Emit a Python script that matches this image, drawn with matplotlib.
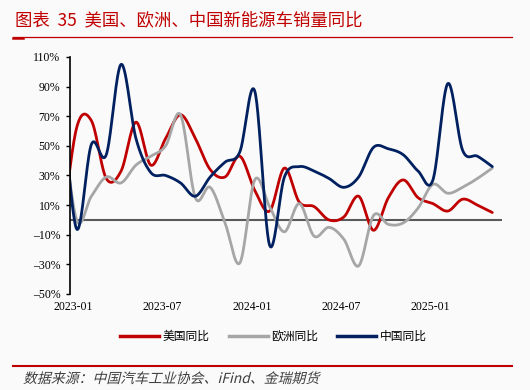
import numpy as np
import matplotlib.pyplot as plt
from matplotlib.lines import Line2D
from matplotlib.textpath import TextPath
from matplotlib.patches import PathPatch
from matplotlib.font_manager import FontProperties
from matplotlib.transforms import Affine2D

plt.rcParams['font.family'] = ['Noto Sans CJK SC', 'DejaVu Sans']

# ------------------------------------------------------------
# data: monthly YoY (%), 2022-12 .. 2025-05 (first point sits left of the axis)
# ------------------------------------------------------------
months = ['2022-12'] + [f'{y}-{m:02d}' for y in (2023, 2024) for m in range(1, 13)] \
         + [f'2025-{m:02d}' for m in range(1, 6)]

us_yoy = [-10, 62, 67, 28, 33, 66, 37, 55, 71, 55, 34, 29, 43,
          20, 6, 35, 12, 9, 0, 2, 16, -7, 15, 27, 15,
          11, 6, 14, 10, 5]
eu_yoy = [73, 0, 16, 29, 25, 37, 43, 50, 71, 15, 22, -2, -29,
          27, 9, -8, 11, -11, -5, -13, -31, 3, -3, -2, 8,
          24, 18, 22, 28, 35]
cn_yoy = [88, -6, 51, 44, 105, 55, 32, 30, 25, 16, 29, 39, 46,
          87, -17, 29, 36, 33, 28, 22, 29, 49, 48, 44, 33,
          27, 92, 47, 43, 36]

series_names = ['美国同比', '欧洲同比', '中国同比']
series_colors = ['#C00000', '#A6A6A6', '#002060']
tick_months = ['2023-01', '2023-07', '2024-01', '2024-07', '2025-01']
y_ticks = list(range(-50, 111, 20))


def smooth(x, y, n=30):
    """Excel-style smoothed line (Catmull-Rom through every point)."""
    x = np.asarray(x, float)
    y = np.asarray(y, float)
    px = np.concatenate([[x[0]], x, [x[-1]]])
    py = np.concatenate([[y[0]], y, [y[-1]]])
    t = np.linspace(0, 1, n)[:, None]
    out_x, out_y = [], []
    for i in range(1, len(px) - 2):
        for p, out in ((px, out_x), (py, out_y)):
            p0, p1, p2, p3 = p[i - 1], p[i], p[i + 1], p[i + 2]
            seg = 0.5 * (2 * p1 + (-p0 + p2) * t
                         + (2 * p0 - 5 * p1 + 4 * p2 - p3) * t ** 2
                         + (-p0 + 3 * p1 - 3 * p2 + p3) * t ** 3)
            out.append(seg.ravel())
    return np.concatenate(out_x), np.concatenate(out_y)


fig = plt.figure(figsize=(5.30, 3.90), dpi=100)
fig.patch.set_facecolor('#FAFAFA')

ax = fig.add_axes([0.1321, 0.2462, 0.815, 0.6077])
ax.set_facecolor('#FAFAFA')

xs = np.arange(len(months)) - 1  # 2023-01 -> 0
for vals, name, col in zip([us_yoy, eu_yoy, cn_yoy], series_names, series_colors):
    sx, sy = smooth(xs, vals)
    ax.plot(sx, sy, color=col, linewidth=2.0, label=name, solid_capstyle='round')

ax.axhline(0, color='#595959', linewidth=1.5, zorder=1)

ax.set_xlim(-0.44, 28.65)
ax.set_ylim(-50, 110)
ax.set_yticks(y_ticks)
ax.set_yticklabels([f'{v}%'.replace('-', '\u2013') for v in y_ticks],
                   family='Liberation Serif', fontsize=8.5)
ax.set_xticks([months.index(m) - 1.2 for m in tick_months])
ax.set_xticklabels(tick_months, family='Liberation Serif', fontsize=8.5)
ax.tick_params(axis='y', length=3, width=1, pad=4)
ax.tick_params(axis='x', length=0, pad=5)
for s in ('top', 'right', 'bottom'):
    ax.spines[s].set_visible(False)
ax.spines['left'].set_linewidth(1.2)

handles = [Line2D([0], [0], color=c, linewidth=2.5) for c in series_colors]
fig.legend(handles, series_names, loc='center', bbox_to_anchor=(0.516, 0.138),
           ncol=3, frameon=False, fontsize=8.5, handlelength=3.3,
           handletextpad=0.3, columnspacing=1.6)

# title, rules and source
fig.text(0.028, 0.948, '图表  35  美国、欧洲、中国新能源车销量同比',
         color='#C00000', fontsize=12.5, va='center')
fig.add_artist(Line2D([0.025, 0.966], [0.906, 0.906], color='#C00000', linewidth=0.9))
fig.add_artist(Line2D([0.025, 0.043], [0.903, 0.903], color='#C00000', linewidth=1.8))
fig.add_artist(Line2D([0.025, 0.966], [0.062, 0.062], color='#C00000', linewidth=1.5))

# italic (slanted) source note
src = TextPath((0, 0), '数据来源：中国汽车工业协会、iFind、金瑞期货',
               prop=FontProperties(family=['Noto Sans CJK SC'], size=10))
src_tr = Affine2D().scale(100 / 72).skew_deg(14, 0).translate(23, 390 - 383)
fig.add_artist(PathPatch(src, transform=src_tr, facecolor='#404040',
                         edgecolor='none'))

fig.savefig('out.png', dpi=100, facecolor=fig.get_facecolor())
